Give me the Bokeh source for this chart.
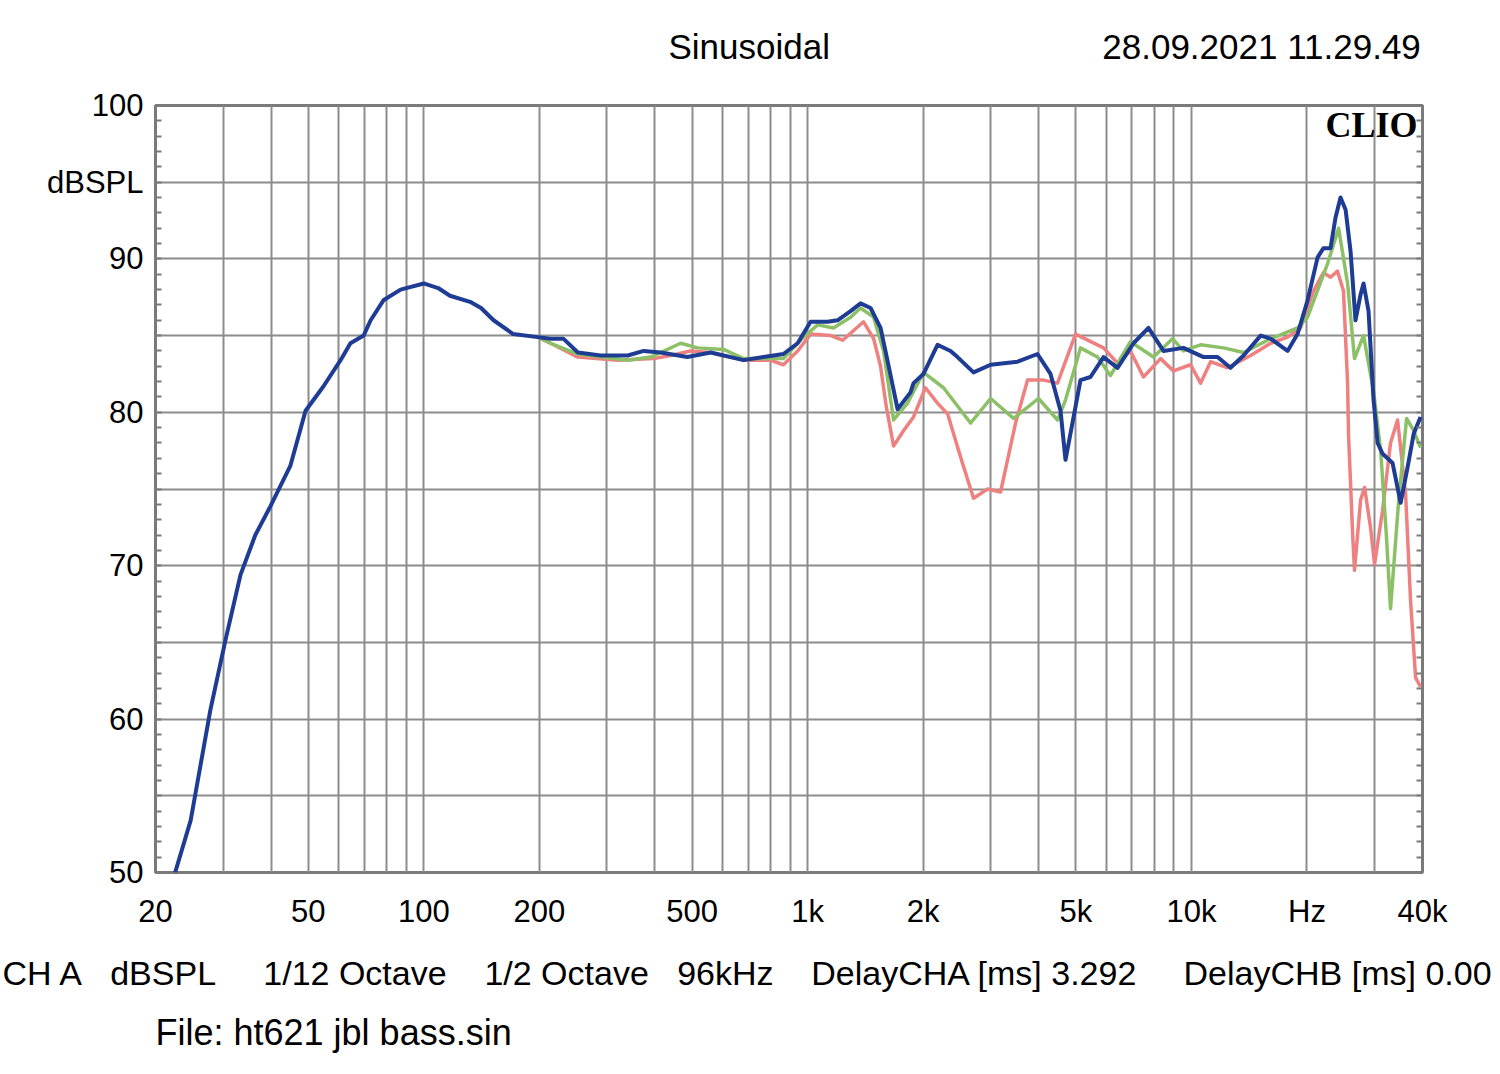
import numpy as np
from bokeh.plotting import figure
from bokeh.models import FixedTicker, LinearAxis, Label, Range1d, Title
from bokeh.embed import file_html
from bokeh.resources import INLINE

# ---------------- data (frequency in Hz, level in dBSPL) ----------------
blue_curve = [(22.5, 50.0), (24.7, 53.4), (27.8, 60.6), (30.4, 65.1), (33.3, 69.4), (36.4, 72.0),
              (39.9, 73.9), (44.9, 76.5), (49.2, 80.1), (54.8, 81.7), (60.7, 83.4), (64.4, 84.5),
              (69.7, 85.0), (72.7, 86.0), (78.5, 87.3), (87, 88.0), (100, 88.4), (109, 88.1),
              (117, 87.6), (132, 87.2), (141, 86.8), (152, 86.0), (171, 85.1), (198, 84.9),
              (214, 84.8), (231, 84.8), (252, 83.9), (289, 83.7), (340, 83.7), (374, 84.0),
              (414, 83.9), (486, 83.6), (559, 83.9), (681, 83.4), (768, 83.6), (865, 83.8),
              (942, 84.5), (1018, 85.9), (1127, 85.9), (1197, 86.0), (1294, 86.6), (1374, 87.1),
              (1459, 86.8), (1549, 85.5), (1614, 83.4), (1716, 80.2), (1854, 81.3), (1888, 81.9),
              (2004, 82.5), (2180, 84.4), (2357, 84.0), (2458, 83.6), (2706, 82.6), (2998, 83.1),
              (3524, 83.3), (3972, 83.8), (4294, 82.5), (4560, 80.1), (4698, 76.9), (4898, 79.3),
              (5140, 82.1), (5458, 82.3), (5902, 83.6), (6420, 82.9), (7064, 84.5), (7728, 85.5),
              (8456, 84.0), (9532, 84.2), (10756, 83.6), (11696, 83.6), (12642, 82.9), (13676, 83.7),
              (15144, 85.0), (16084, 84.8), (17804, 84.0), (18902, 85.1), (20074, 87.3), (21320, 90.1),
              (22080, 90.7), (23040, 90.7), (23740, 92.7), (24460, 94.0), (25220, 93.2), (25980, 90.5),
              (26760, 86.0), (27600, 87.7), (28080, 88.4), (28940, 86.6), (29820, 80.8), (30560, 78.0),
              (31480, 77.3), (33420, 76.7), (35080, 74.1), (36560, 76.4), (37940, 78.6), (39540, 79.7)]

green_curve = [(198, 84.9), (214, 84.5), (252, 83.8), (340, 83.4), (390, 83.6), (467, 84.5),
               (517, 84.2), (604, 84.1), (681, 83.5), (865, 83.5), (976, 84.9), (1062, 85.7),
               (1168, 85.5), (1294, 86.2), (1374, 86.8), (1486, 86.2), (1577, 84.0), (1675, 79.5),
               (1821, 80.6), (2004, 82.6), (2260, 81.6), (2658, 79.3), (2998, 80.9), (3440, 79.6),
               (3996, 80.9), (4478, 79.5), (4698, 80.8), (5140, 84.2), (5690, 83.6), (6152, 82.4),
               (6936, 84.6), (7966, 83.6), (8928, 84.8), (9532, 84.0), (10564, 84.4), (12130, 84.2),
               (13676, 83.9), (15794, 84.7), (18902, 85.5), (20074, 86.2), (22640, 89.7), (24180, 92.0),
               (25520, 88.4), (26600, 83.5), (28080, 85.0), (29820, 81.4), (31120, 77.5), (32200, 72.0),
               (33020, 67.2), (34660, 74.2), (36360, 79.6), (37940, 78.8), (39540, 77.7)]

red_curve = [(198, 84.9), (214, 84.5), (252, 83.6), (320, 83.4), (397, 83.5), (440, 83.7),
             (495, 84.0), (559, 83.9), (681, 83.4), (800, 83.4), (865, 83.1), (942, 84.0),
             (1018, 85.1), (1148, 85.0), (1234, 84.7), (1399, 85.9), (1486, 84.8), (1549, 83.0),
             (1600, 80.5), (1675, 77.8), (1778, 78.8), (1888, 79.7), (2028, 81.6), (2180, 80.6),
             (2316, 79.9), (2502, 77.1), (2706, 74.4), (2944, 75.0), (3182, 74.8), (3482, 79.3),
             (3742, 82.1), (4118, 82.1), (4478, 81.9), (4990, 85.1), (5902, 84.2), (6420, 83.2),
             (6936, 84.0), (7500, 82.3), (8310, 83.5), (8980, 82.7), (9950, 83.1), (10564, 81.9),
             (11218, 83.3), (12420, 82.9), (14264, 83.7), (16084, 84.5), (17804, 84.9), (19238, 85.5),
             (20800, 87.9), (22080, 89.1), (23040, 88.8), (24020, 89.2), (24900, 87.9), (25520, 81.9),
             (25660, 78.6), (26300, 72.1), (26600, 69.7), (27600, 74.3), (28260, 75.1), (29280, 72.5),
             (30000, 70.1), (31480, 73.6), (33020, 78.0), (34440, 79.5), (36140, 74.7), (37240, 67.7),
             (38380, 62.7), (39540, 62.1)]

x_ticks = [20, 50, 100, 200, 500, 1000, 2000, 5000, 10000, 20000, 40000]
x_tick_labels = ["20", "50", "100", "200", "500", "1k", "2k", "5k", "10k", "Hz", "40k"]
x_grid = [20, 30, 40, 50, 60, 70, 80, 90, 100, 200, 300, 400, 500, 600, 700, 800, 900, 1000,
          2000, 3000, 4000, 5000, 6000, 7000, 8000, 9000, 10000, 20000, 30000, 40000]
y_ticks = [50, 60, 70, 80, 90, 95, 100]
y_tick_labels = {95: "dBSPL"}
y_grid = [50, 55, 60, 65, 70, 75, 80, 85, 90, 95, 100]
y_minor = list(range(50, 101))

top_items = ["Sinusoidal", "28.09.2021 11.29.49"]
top_gaps = [28]
bottom_items = ["CH A", "dBSPL", "1/12 Octave", "1/2 Octave", "96kHz",
                "DelayCHA [ms] 3.292", "DelayCHB [ms] 0.00"]
bottom_gaps = [3, 5, 4, 3, 4, 5]
file_text = "File: ht621 jbl bass.sin"

# ---------------- layout ----------------
W, H = 1492, 1066
FL, FT, FW, FH = 155, 105, 1267, 767
XMIN, XMAX, YMIN, YMAX = 20, 40000, 50, 100
FONT = "Liberation Sans"
NB = "\u00a0"


def join_items(items, gaps):
    out = items[0]
    for g, it in zip(gaps, items[1:]):
        out += NB * g + it
    return out


p = figure(x_axis_type="log", x_range=Range1d(XMIN, XMAX), y_range=Range1d(YMIN, YMAX),
           frame_width=FW, frame_height=FH,
           min_border_left=FL, min_border_top=FT, min_border_right=W - FL - FW,
           min_border_bottom=H - FT - FH,
           output_backend="svg", toolbar_location=None)
p.background_fill_color = "white"
p.border_fill_color = "white"
p.outline_line_color = "#7a7a7a"
p.outline_line_width = 3

p.xgrid.ticker = FixedTicker(ticks=x_grid)
p.ygrid.ticker = FixedTicker(ticks=y_grid)
for g in (p.xgrid, p.ygrid):
    g.grid_line_color = "#8c8c8c"
    g.grid_line_width = 2
    g.grid_line_alpha = 1.0

xa = p.xaxis[0]
xa.ticker = FixedTicker(ticks=x_ticks)
xa.major_label_overrides = {t: l for t, l in zip(x_ticks, x_tick_labels)}
xa.axis_line_color = None
xa.major_tick_out = 0
xa.major_tick_in = 0
xa.minor_tick_out = 0
xa.minor_tick_in = 0
xa.major_label_standoff = 21
xa.major_label_text_font = FONT
xa.major_label_text_font_size = "31px"
xa.major_label_text_color = "black"

ya = p.yaxis[0]
ya.ticker = FixedTicker(ticks=y_ticks, minor_ticks=y_minor)
ya.major_label_overrides = y_tick_labels
ya.axis_line_color = None
ya.major_tick_out = 0
ya.major_tick_in = 0
ya.minor_tick_out = 0
ya.minor_tick_in = 6
ya.minor_tick_line_color = "#7a7a7a"
ya.minor_tick_line_width = 2
ya.major_label_standoff = 12
ya.major_label_text_font = FONT
ya.major_label_text_font_size = "31px"
ya.major_label_text_color = "black"

ra = LinearAxis(ticker=FixedTicker(ticks=[], minor_ticks=y_minor))
ra.axis_line_color = None
ra.major_tick_out = 0
ra.major_tick_in = 0
ra.minor_tick_out = 0
ra.minor_tick_in = 6
ra.minor_tick_line_color = "#7a7a7a"
ra.minor_tick_line_width = 2
ra.major_label_text_font_size = "0px"
p.add_layout(ra, "right")


def split(c):
    return [a for a, _ in c], [b for _, b in c]


rf, rd = split(red_curve)
gf, gd = split(green_curve)
bf, bd = split(blue_curve)
p.line(rf, rd, line_color="#ee8080", line_width=3.5, line_join="round")
p.line(gf, gd, line_color="#8cc066", line_width=3.5, line_join="round")
p.line(bf, bd, line_color="#1e3c94", line_width=4, line_join="round")

# "CLIO" mark inside the frame
clio_x = XMIN * 10 ** ((1417 - FL) / FW * np.log10(XMAX / XMIN))
clio_y = YMAX - (124 - FT) / FH * (YMAX - YMIN)
p.add_layout(Label(x=clio_x, y=clio_y, text="CLIO", text_align="right", text_baseline="middle",
                   text_font="Liberation Serif", text_font_size="36px", text_font_style="bold",
                   text_color="black"))


def title(text, offset, standoff, valign, size):
    return Title(text=text, align="left", offset=offset, standoff=standoff,
                 vertical_align=valign, text_font=FONT, text_font_size=size,
                 text_font_style="normal", text_color="black")


# header (spacer next to the frame, then the header row)
p.add_layout(title(NB, 0, 20, "bottom", "1px"), "above")
p.add_layout(title(join_items(top_items, top_gaps), 668 - FL, 33, "bottom", "35px"), "above")

# footer rows below the x axis
p.add_layout(title(join_items(bottom_items, bottom_gaps), 2 - FL, 40, "bottom", "34px"), "below")
p.add_layout(title(file_text, 0, 0, "top", "36px"), "below")

open("out.html", "w").write(file_html(p, INLINE))
